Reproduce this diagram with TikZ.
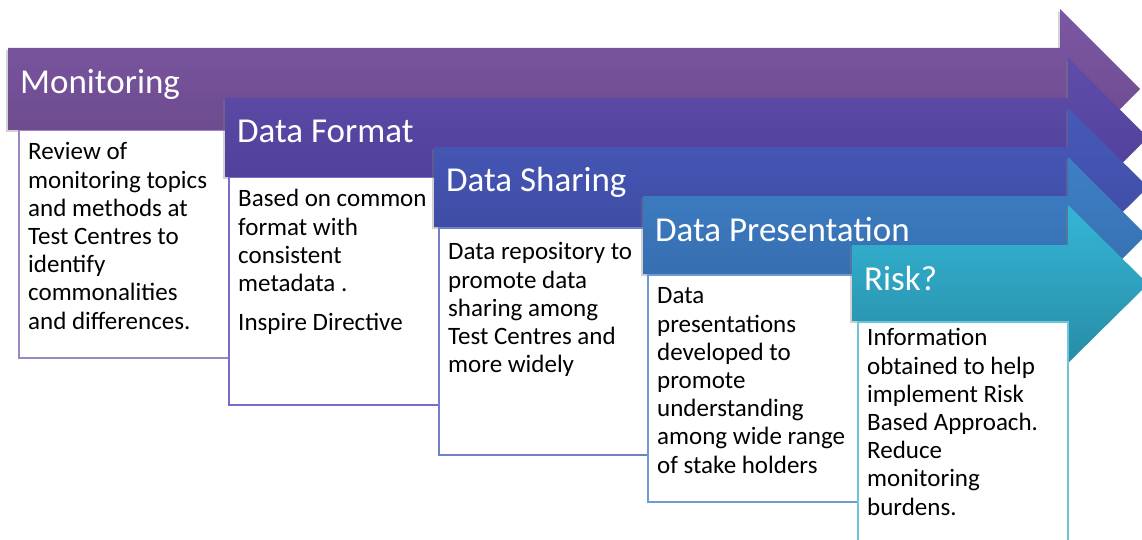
\documentclass[tikz,border=0pt]{standalone}
\usepackage{fontspec}
\setmainfont{Carlito}
\usepackage{tikz}
\usetikzlibrary{positioning, shadows}

\definecolor{monTop}{RGB}{124,87,165}
\definecolor{monBot}{RGB}{105,72,135}
\definecolor{fmtTop}{RGB}{94,78,170}
\definecolor{fmtBot}{RGB}{78,60,150}
\definecolor{shrTop}{RGB}{70,90,185}
\definecolor{shrBot}{RGB}{62,72,160}
\definecolor{preTop}{RGB}{62,128,198}
\definecolor{preBot}{RGB}{52,105,170}
\definecolor{rskTop}{RGB}{52,182,215}
\definecolor{rskBot}{RGB}{40,140,165}
\definecolor{monLine}{RGB}{155,135,195}
\definecolor{fmtLine}{RGB}{120,110,200}
\definecolor{shrLine}{RGB}{110,128,200}
\definecolor{preLine}{RGB}{110,155,215}
\definecolor{rskLine}{RGB}{110,196,216}

\tikzstyle{band} = [drop shadow={shadow xshift=-2pt, shadow yshift=-2pt, opacity=0.35}]
\tikzstyle{stage} = [text=white, anchor=base west, inner sep=0pt, font=\fontsize{35}{40}\selectfont]
\tikzstyle{card} = [rectangle, draw, fill=white, line width=1.5pt, minimum width=210pt, minimum height=227pt, anchor=north west, inner sep=0pt]
\tikzstyle{note} = [align=left, inner sep=0pt, font=\fontsize{25}{28.2}\selectfont]

\begin{document}
\begin{tikzpicture}[x=1pt, y=-1pt]
  \useasboundingbox (0,0) rectangle (1142,540);

  % Monitoring
  \path [band, top color=monTop, bottom color=monBot] (8,48) -- (1060,48) -- (1060,9) -- (1140,89) -- (1060,169) -- (1060,130) -- (8,130) -- cycle;
  \node (monitoring) [stage] at (20,94) {Monitoring};
  \node (moncard) [card, draw=monLine] at (18,130) {};
  \node (montext) [note, below right=10pt and 10pt of moncard.north west] {\strut Review of\\ monitoring topics\\ and methods at\\ Test Centres to\\ identify\\ commonalities\\ and differences.};

  % Data Format
  \path [band, top color=fmtTop, bottom color=fmtBot] (225,98) -- (1068,98) -- (1068,58) -- (1148,137.5) -- (1068,217) -- (1068,177) -- (225,177) -- cycle;
  \node (format) [stage] at (237,143) {Data Format};
  \node (fmtcard) [card, draw=fmtLine] at (228,177) {};
  \node (fmttext) [note, below right=10pt and 10pt of fmtcard.north west] {\strut Based on common\\ format with\\ consistent\\ metadata .\\[11pt] Inspire Directive};

  % Data Sharing
  \path [band, top color=shrTop, bottom color=shrBot] (434,147) -- (1068,147) -- (1068,108) -- (1148,187) -- (1068,266) -- (1068,227) -- (434,227) -- cycle;
  \node (sharing) [stage] at (446,192) {Data Sharing};
  \node (shrcard) [card, draw=shrLine] at (438,227) {};
  \node (shrtext) [note, below right=13pt and 10pt of shrcard.north west] {\strut Data repository to\\ promote data\\ sharing among\\ Test Centres and\\ more widely};

  % Data Presentation
  \path [band, top color=preTop, bottom color=preBot] (643,196) -- (1068,196) -- (1068,157) -- (1146,235) -- (1068,313) -- (1068,274) -- (643,274) -- cycle;
  \node (presentation) [stage] at (655,241) {Data Presentation};
  \node (precard) [card, draw=preLine] at (647,274) {};
  \node (pretext) [note, below right=10pt and 10pt of precard.north west] {\strut Data\\ presentations\\ developed to\\ promote\\ understanding\\ among wide range\\ of stake holders};

  % Risk
  \path [band, top color=rskTop, bottom color=rskBot] (852,245) -- (1068,245) -- (1068,205) -- (1148,284) -- (1068,363) -- (1068,321) -- (852,321) -- cycle;
  \node (risk) [stage] at (864,290) {Risk?};
  \node (rskcard) [card, draw=rskLine] at (857,321) {};
  \node (rsktext) [note, below right=5pt and 10pt of rskcard.north west] {\strut Information\\ obtained to help\\ implement Risk\\ Based Approach.\\ Reduce\\ monitoring\\ burdens.};
\end{tikzpicture}
\end{document}
